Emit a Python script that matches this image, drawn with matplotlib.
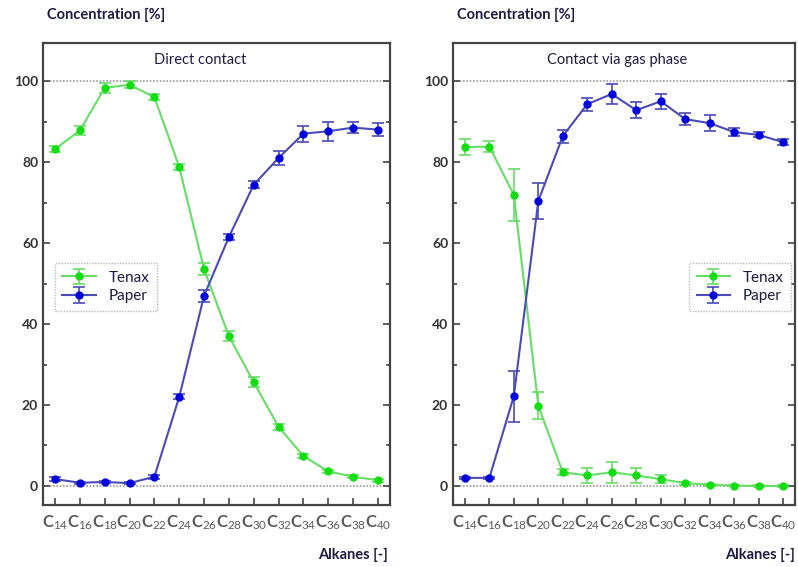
import numpy as np
import matplotlib.pyplot as plt

# chain lengths of the alkanes
carbons = [14, 16, 18, 20, 22, 24, 26, 28, 30, 32, 34, 36, 38, 40]
tick_labels = [f"C$_{{{c}}}$" for c in carbons]

# direct contact
direct_tenax = [83.2, 87.8, 98.3, 99.1, 96.0, 78.8, 53.5, 37.0, 25.6, 14.6, 7.4, 3.6, 2.3, 1.4]
direct_tenax_err = [0.8, 1.2, 1.2, 0.8, 0.8, 0.8, 1.5, 1.2, 1.2, 0.8, 0.6, 0.4, 0.3, 0.3]
direct_paper = [1.7, 0.8, 1.0, 0.7, 2.3, 22.0, 47.0, 61.5, 74.4, 81.0, 87.0, 87.6, 88.5, 88.0]
direct_paper_err = [0.4, 0.3, 0.3, 0.3, 0.5, 0.6, 1.5, 0.8, 0.8, 1.8, 2.0, 2.4, 1.4, 1.6]

# contact via gas phase
gas_tenax = [83.7, 83.8, 71.9, 19.8, 3.4, 2.6, 3.4, 2.6, 1.7, 0.7, 0.3, 0.1, 0.0, 0.0]
gas_tenax_err = [2.0, 1.4, 6.5, 3.3, 0.8, 1.8, 2.6, 1.9, 1.0, 0.4, 0.3, 0.2, 0.2, 0.2]
gas_paper = [2.0, 2.0, 22.2, 70.4, 86.4, 94.3, 96.8, 92.8, 95.0, 90.6, 89.6, 87.4, 86.7, 84.9]
gas_paper_err = [0.3, 0.3, 6.3, 4.5, 1.6, 1.6, 2.4, 2.0, 1.8, 1.5, 2.0, 1.0, 0.6, 0.8]

txt_col = "#1c1c44"
frame_col = "#444444"
green_line = "#66dd66"
green_mark = "#11dd11"
blue_line = "#4a4ab8"
blue_mark = "#0000dd"

plt.rcParams['font.family'] = ['Lato', 'DejaVu Sans']
plt.rcParams['mathtext.fontset'] = 'custom'
plt.rcParams['mathtext.rm'] = 'Lato'
plt.rcParams['mathtext.it'] = 'Lato'
plt.rcParams['mathtext.bf'] = 'Lato:bold'

fig = plt.figure(figsize=(7.98, 5.67), dpi=100)
ax1 = fig.add_axes([0.0539, 0.1093, 0.4348, 0.8149])
ax2 = fig.add_axes([0.5677, 0.1093, 0.4285, 0.8149])


def draw_panel(ax, tenax, tenax_err, paper, paper_err, title, title_x, legend_loc):
    ax.errorbar(carbons, tenax, yerr=tenax_err, color=green_line, lw=1.5,
                marker='o', ms=5, mfc=green_mark, mec=green_mark,
                ecolor=green_line, elinewidth=1.2, capsize=4, capthick=1.2,
                label="Tenax", zorder=3)
    ax.errorbar(carbons, paper, yerr=paper_err, color=blue_line, lw=1.5,
                marker='o', ms=5, mfc=blue_mark, mec=blue_mark,
                ecolor=blue_line, elinewidth=1.2, capsize=4, capthick=1.2,
                label="Paper", zorder=3)

    # dotted reference lines at 0 and 100 %
    for yv in (0, 100):
        ax.axhline(yv, color="#999999", ls=(0, (1, 1)), lw=1.2, zorder=1)

    ax.set_xlim(13.03, 40.97)
    ax.set_ylim(-4.7, 109.4)
    ax.set_xticks(carbons)
    ax.set_xticklabels(tick_labels, fontsize=12, color="#5a5a5a", fontweight='bold')
    ax.set_yticks([0, 20, 40, 60, 80, 100])
    ax.set_yticks(np.arange(10, 100, 20), minor=True)
    ax.tick_params(axis='y', which='both', direction='in', right=True,
                   labelsize=10, labelcolor="#333333", color=frame_col, width=1.2)
    ax.tick_params(axis='y', which='major', length=5)
    ax.tick_params(axis='y', which='minor', length=3)
    ax.tick_params(axis='x', direction='in', length=5, width=1.2, color=frame_col, pad=6)
    for lbl in ax.get_yticklabels():
        lbl.set_fontweight('bold')
    for sp in ax.spines.values():
        sp.set_color(frame_col)
        sp.set_linewidth(1.6)

    ax.text(title_x, 0.963, title, transform=ax.transAxes, ha='center', va='center',
            fontsize=10.5, color=txt_col)

    leg = ax.legend(loc=legend_loc, fontsize=11, frameon=True, fancybox=False,
                    handlelength=2.2, borderpad=0.5, labelspacing=0.3)
    leg.get_frame().set_edgecolor("#aaaaaa")
    leg.get_frame().set_linestyle((0, (1, 1)))
    leg.get_frame().set_linewidth(1.0)
    for t in leg.get_texts():
        t.set_color(txt_col)


draw_panel(ax1, direct_tenax, direct_tenax_err, direct_paper, direct_paper_err,
           "Direct contact", 0.452, (0.034, 0.42))
draw_panel(ax2, gas_tenax, gas_tenax_err, gas_paper, gas_paper_err,
           "Contact via gas phase", 0.48, (0.69, 0.42))

# axis captions above and below each panel
for x_left, x_right in ((47, 388), (457, 795)):
    fig.text(x_left / 798, 1 - 15 / 567, "Concentration [%]", ha='left', va='center',
             fontsize=10.5, fontweight='bold', color=txt_col)
    fig.text(x_right / 798, 1 - 555 / 567, "Alkanes [-]", ha='right', va='center',
             fontsize=10.5, fontweight='bold', color=txt_col)

fig.savefig("out.png", dpi=100)
